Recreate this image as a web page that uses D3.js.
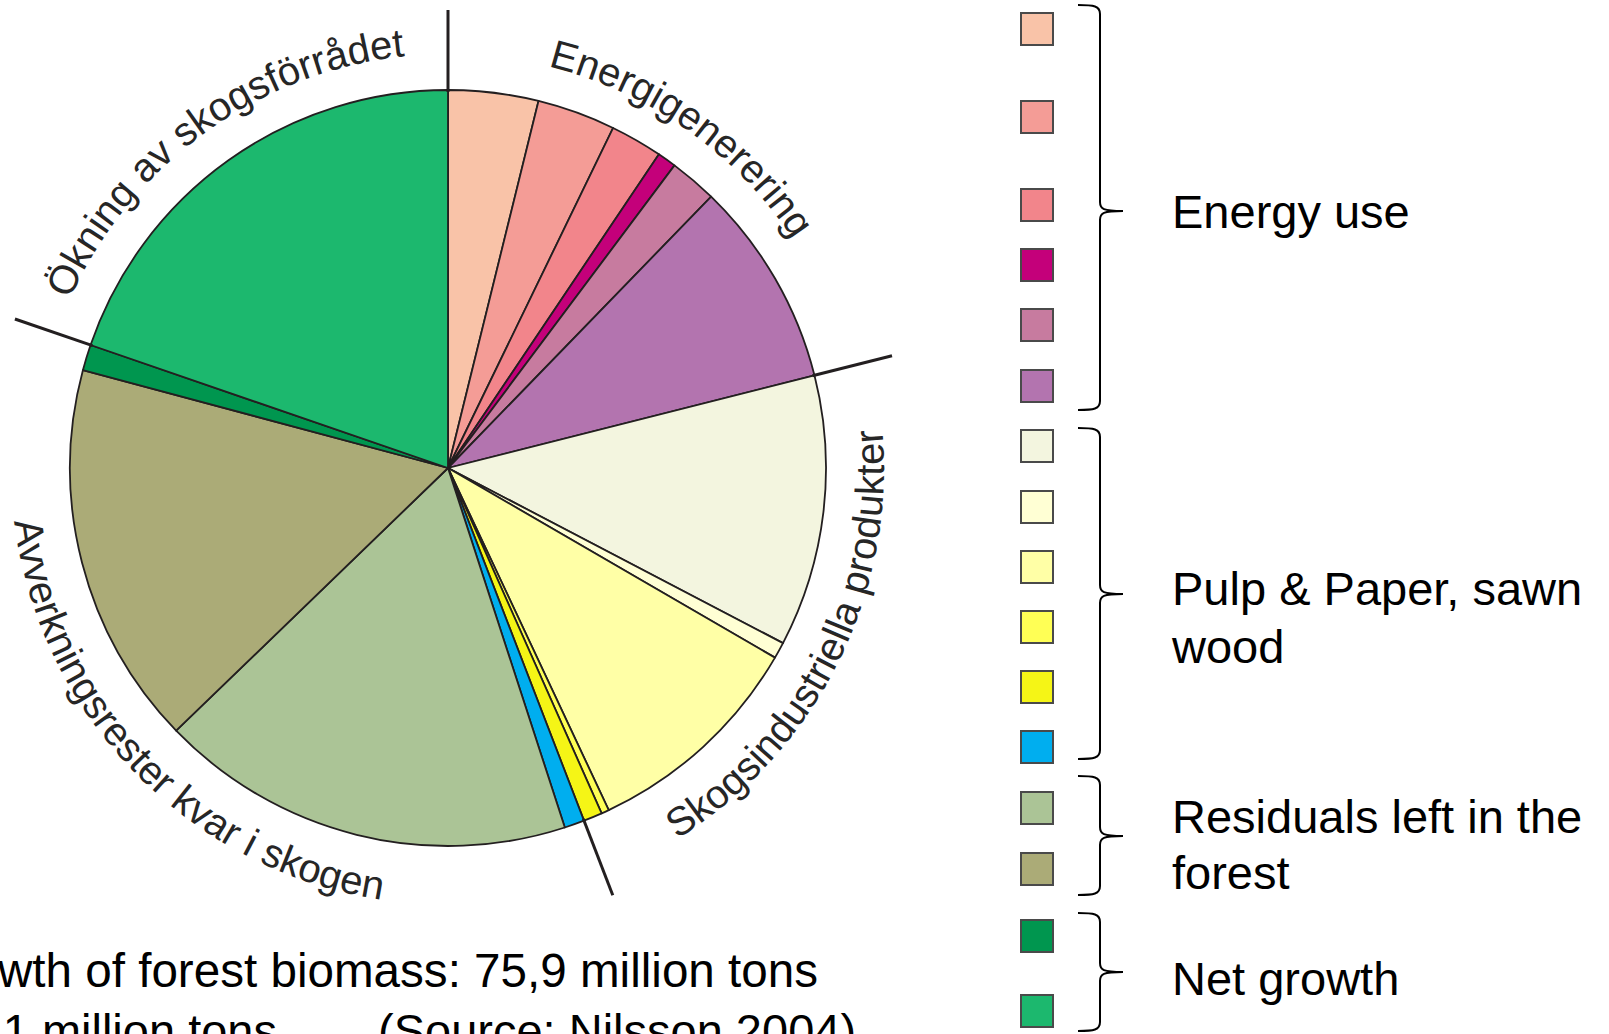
<!DOCTYPE html>
<html>
<head>
<meta charset="utf-8">
<script src="https://cdn.jsdelivr.net/npm/d3@7"></script>
<style>
  html, body { margin: 0; padding: 0; background: #fff; overflow: hidden; }
  svg { display: block; font-family: "Liberation Sans", Arial, sans-serif; }
</style>
</head>
<body>
<svg id="chart" width="1609" height="1034"></svg>
<script>
// Use of the annual forest biomass growth (million tons), clockwise from the top
const slices = [
  "Energi 1", "Energi 2", "Energi 3", "Energi 4", "Energi 5", "Energi 6",
  "Skogsind. 1", "Skogsind. 2", "Skogsind. 3", "Skogsind. 4", "Skogsind. 5", "Skogsind. 6",
  "Avverkningsrester 1", "Avverkningsrester 2",
  "Tillväxt 1", "Tillväxt 2"
];
const values = [2.92, 2.54, 1.69, 0.61, 1.54, 6.68, 8.81, 0.53, 7.32, 0.25, 0.61, 0.65, 13.49, 12.44, 0.84, 14.97];
const colors = [
  "#F9C3A8", "#F49C96", "#F2858B", "#C4007A", "#C77B9F", "#B374AF",
  "#F3F5DF", "#FFFFD4", "#FFFFA6", "#FFFF55", "#F5F516", "#00AEEF",
  "#ABC496", "#ABAB77",
  "#00964F", "#1CB86E"
];
// index of the last slice in each sector that gets a divider line
const sectorEnds = [5, 10, 14, 15];

// curved sector titles
const sectorTitles = ["Ökning av skogsförrådet", "Energigenerering", "Skogsindustriella produkter", "Avverkningsrester kvar i skogen"];

// legend groups: slice indices and the wording beside each brace
const legendGroups = [
  { first: 0,  last: 5,  lines: ["Energy use"] },
  { first: 6,  last: 11, lines: ["Pulp & Paper, sawn", "wood"] },
  { first: 12, last: 13, lines: ["Residuals left in the", "forest"] },
  { first: 14, last: 15, lines: ["Net growth"] }
];

const footnotes = ["growth of forest biomass: 75,9 million tons", ",1 million tons", "(Source: Nilsson 2004)"];

// ---- layout ----
const cx = 448, cy = 468, R = 378;
const svg = d3.select("#chart");
const ink = "#231f20";
const rad = d => d * Math.PI / 180;

const pie = d3.pie().sort(null).value(d => d)(values);
const arc = d3.arc().innerRadius(0).outerRadius(R);

const g = svg.append("g").attr("transform", `translate(${cx},${cy})`);
g.selectAll("path.slice")
  .data(pie)
  .join("path")
  .attr("class", "slice")
  .attr("d", arc)
  .attr("fill", (d, i) => colors[i])
  .attr("stroke", ink)
  .attr("stroke-width", 1.8)
  .attr("stroke-linejoin", "round");

// divider lines between sectors, running past the rim
const dividerAngles = [pie[0].startAngle].concat(sectorEnds.slice(0, 3).map(i => pie[i].endAngle));
g.selectAll("line.divider")
  .data(dividerAngles)
  .join("line")
  .attr("class", "divider")
  .attr("x1", a => (R - 2) * Math.sin(a))
  .attr("y1", a => -(R - 2) * Math.cos(a))
  .attr("x2", a => 458 * Math.sin(a))
  .attr("y2", a => -458 * Math.cos(a))
  .attr("stroke", ink)
  .attr("stroke-width", 3);

// ---- curved titles ----
function ringPath(r, a0, a1) {
  const p0 = [cx + r * Math.sin(rad(a0)), cy - r * Math.cos(rad(a0))];
  const p1 = [cx + r * Math.sin(rad(a1)), cy - r * Math.cos(rad(a1))];
  const sweep = a1 > a0 ? 1 : 0;
  const large = Math.abs(a1 - a0) > 180 ? 1 : 0;
  return `M${p0[0]},${p0[1]} A${r},${r} 0 ${large} ${sweep} ${p1[0]},${p1[1]}`;
}
const titleRings = [
  { r: 414, a0: 294, a1: 380 },
  { r: 414, a0: 14,  a1: 100 },
  { r: 436, a0: 148.3, a1: 50 },
  { r: 437, a0: 263, a1: 160 }
];
const defs = svg.append("defs");
titleRings.forEach((t, i) => {
  defs.append("path").attr("id", "ring" + i).attr("d", ringPath(t.r, t.a0, t.a1));
});
svg.selectAll("text.title")
  .data(sectorTitles)
  .join("text")
  .attr("class", "title")
  .attr("font-size", 40)
  .attr("fill", "#262626")
  .append("textPath")
  .attr("href", (d, i) => "#ring" + i)
  .text(d => d);

// ---- legend ----
const swatchX = 1021, swatchSize = 32;
const swatchTop = [13, 101, 189, 249, 309, 370, 430, 491, 551, 611, 671, 731, 792, 853, 920, 995];
svg.selectAll("rect.swatch")
  .data(colors)
  .join("rect")
  .attr("class", "swatch")
  .attr("x", swatchX)
  .attr("y", (d, i) => swatchTop[i])
  .attr("width", swatchSize)
  .attr("height", swatchSize)
  .attr("fill", d => d)
  .attr("stroke", "#4a4a4a")
  .attr("stroke-width", 2);

const braceBox = [
  { top: 5,   bottom: 410,  tip: 211 },
  { top: 428, bottom: 759,  tip: 594 },
  { top: 776, bottom: 895,  tip: 836 },
  { top: 913, bottom: 1031, tip: 972 }
];
const bx0 = 1078, bx = 1100, bx1 = 1123;
function bracePath(b) {
  return `M${bx0},${b.top} C${bx - 6},${b.top} ${bx},${b.top + 1} ${bx},${b.top + 9}` +
         ` L${bx},${b.tip - 9} C${bx},${b.tip - 2} ${bx + 3},${b.tip} ${bx1},${b.tip}` +
         ` M${bx1},${b.tip} C${bx + 3},${b.tip} ${bx},${b.tip + 2} ${bx},${b.tip + 9}` +
         ` L${bx},${b.bottom - 9} C${bx},${b.bottom - 1} ${bx - 6},${b.bottom} ${bx0},${b.bottom}`;
}
svg.selectAll("path.brace")
  .data(legendGroups)
  .join("path")
  .attr("class", "brace")
  .attr("d", (d, i) => bracePath(braceBox[i]))
  .attr("fill", "none")
  .attr("stroke", "#000")
  .attr("stroke-width", 2);

const labelBaselines = [[228], [605, 663], [833, 889], [995]];
legendGroups.forEach((grp, i) => {
  grp.lines.forEach((line, j) => {
    svg.append("text")
      .attr("x", 1172)
      .attr("y", labelBaselines[i][j])
      .attr("font-size", 47)
      .attr("fill", "#000")
      .text(line);
  });
});

// ---- footnotes ----
svg.append("text").attr("x", 818).attr("y", 987).attr("text-anchor", "end")
  .attr("font-size", 47.6).attr("fill", "#000").text(footnotes[0]);
svg.append("text").attr("x", 277).attr("y", 1047).attr("text-anchor", "end")
  .attr("font-size", 47).attr("fill", "#000").text(footnotes[1]);
svg.append("text").attr("x", 378).attr("y", 1047)
  .attr("font-size", 47).attr("fill", "#000").text(footnotes[2]);
</script>
</body>
</html>
